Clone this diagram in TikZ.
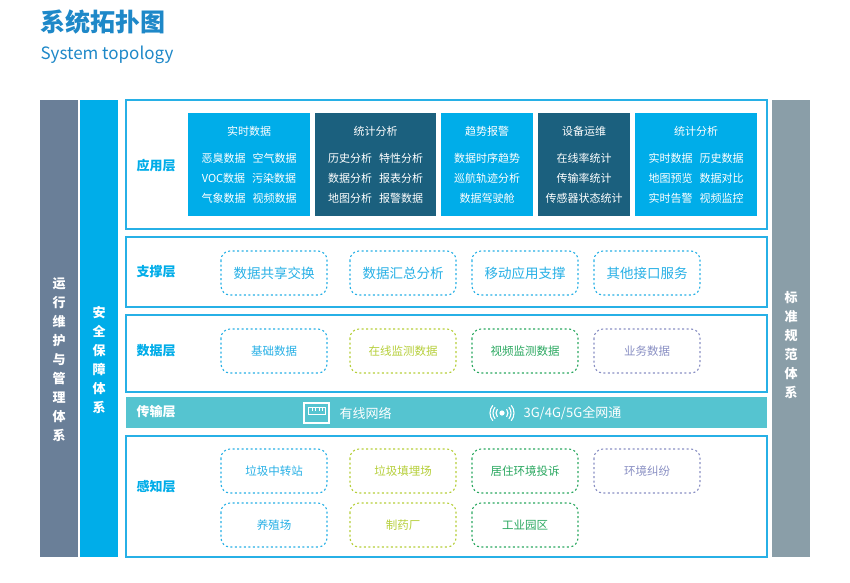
\documentclass[tikz,border=0pt]{standalone}
\usepackage{fontspec}
\setmainfont{Noto Sans CJK SC}
\definecolor{cy}{HTML}{00ADE9}
\definecolor{dk}{HTML}{1B607E}
\definecolor{lb}{HTML}{27B0E6}
\definecolor{yg}{HTML}{B6CF3A}
\definecolor{gr}{HTML}{2AA860}
\definecolor{pu}{HTML}{8A90C4}
\definecolor{tr}{HTML}{55C4D0}
\definecolor{sl}{HTML}{6A7F98}
\definecolor{gy}{HTML}{8A9EA8}
\definecolor{tt}{HTML}{1E88C8}
\newcommand{\gp}{\hspace{7pt}}
\begin{document}
\begin{tikzpicture}[x=1pt,y=-1pt,
 layer/.style={draw=lb,line width=1.2pt,fill=white},
 lab/.style={font=\bfseries\fontsize{13}{15}\selectfont,text=cy,anchor=west},
 dbox/.style={draw=#1,dashed,dash pattern=on 2pt off 2.5pt,line width=1.1pt,rounded corners=9pt},
 vtxt/.style={text=white,font=\bfseries\fontsize{13}{19}\selectfont,align=center}]
\useasboundingbox (0,0) rectangle (850,582);
\node[anchor=west,text=tt,font=\bfseries\fontsize{25}{28}\selectfont] (t1) at (37,22) {系统拓扑图};
\node[anchor=west,text=tt,font=\fontsize{17}{19}\selectfont] (t2) at (37,55) {System topology};
% side bars
\fill[sl] (40,100) rectangle (78,557);
\node[vtxt] (b1) at (59,360) {运\\行\\维\\护\\与\\管\\理\\体\\系};
\fill[cy] (80,100) rectangle (118,557);
\node[vtxt] (b2) at (99,360) {安\\全\\保\\障\\体\\系};
\fill[gy] (772,100) rectangle (810,557);
\node[vtxt] (b3) at (791,345) {标\\准\\规\\范\\体\\系};
% layers
\draw[layer] (126,100) rectangle (767,229);
\node[lab] (l1) at (133,166) {应用层};
\draw[layer] (126,237) rectangle (767,307);
\node[lab] (l2) at (133,272) {支撑层};
\draw[layer] (126,315) rectangle (767,392);
\node[lab] (l3) at (133,351) {数据层};
\fill[tr] (126,397) rectangle (767,428);
\node[lab,text=white] (l4) at (133,412) {传输层};
\draw[layer] (126,436) rectangle (767,557);
\node[lab] (l5) at (133,487) {感知层};
% app boxes
\newcommand{\abx}[5]{\fill[#1] (#2,113) rectangle (#3,216);
 \node[text=white,font=\fontsize{11}{13}\selectfont] at ({(#2+#3)/2},131) {#4};
 \node[text=white,font=\fontsize{11}{20}\selectfont,align=center] at ({(#2+#3)/2},178) {#5};}
\abx{cy}{188}{310}{实时数据}{恶臭数据\gp 空气数据\\VOC数据\gp 污染数据\\气象数据\gp 视频数据}
\abx{dk}{315}{436}{统计分析}{历史分析\gp 特性分析\\数据分析\gp 报表分析\\地图分析\gp 报警数据}
\abx{cy}{441}{533}{趋势报警}{数据时序趋势\\巡航轨迹分析\\数据驾驶舱}
\abx{dk}{538}{630}{设备运维}{在线率统计\\传输率统计\\传感器状态统计}
\abx{cy}{635}{757}{统计分析}{实时数据\gp 历史数据\\地图预览\gp 数据对比\\实时告警\gp 视频监控}
% dashed boxes
\newcommand{\dbx}[5]{\draw[dbox=#1] (#2,#3) rectangle ++(106,44);
 \node[text=#1,font=\fontsize{#5}{15}\selectfont] at (#2+53,#3+22) {#4};}
\dbx{lb}{221}{251}{数据共享交换}{13.5}
\dbx{lb}{350}{251}{数据汇总分析}{13.5}
\dbx{lb}{472}{251}{移动应用支撑}{13.5}
\dbx{lb}{594}{251}{其他接口服务}{13.5}
\dbx{lb}{221}{329}{基础数据}{11.5}
\dbx{yg}{350}{329}{在线监测数据}{11.5}
\dbx{gr}{472}{329}{视频监测数据}{11.5}
\dbx{pu}{594}{329}{业务数据}{11.5}
\dbx{lb}{221}{449}{垃圾中转站}{11.5}
\dbx{yg}{350}{449}{垃圾填埋场}{11.5}
\dbx{gr}{472}{449}{居住环境投诉}{11.5}
\dbx{pu}{594}{449}{环境纠纷}{11.5}
\dbx{lb}{221}{503}{养殖场}{11.5}
\dbx{yg}{350}{503}{制药厂}{11.5}
\dbx{gr}{472}{503}{工业园区}{11.5}
% transport
\draw[white,line width=1.3pt] (304,403) rectangle (329,423);
\draw[white,line width=1pt] (308,407) -- (308,414) -- (325,414) -- (325,407) -- cycle;
\foreach \xx in {312,315.5,319,322} \draw[white,line width=0.8pt] (\xx,407) -- (\xx,411);
\node[anchor=west,text=white,font=\fontsize{13}{15}\selectfont] (w1) at (336,413) {有线网络};
\fill[white] (502,413) circle (2.6pt);
\foreach \r in {6,9,12} {
 \draw[white,line width=1.1pt] (502,413) ++(-40:\r) arc (-40:40:\r);
 \draw[white,line width=1.1pt] (502,413) ++(140:\r) arc (140:220:\r);}
\node[anchor=west,text=white,font=\fontsize{13}{15}\selectfont] (w3) at (520,413) {3G/4G/5G全网通};
\end{tikzpicture}
\end{document}
